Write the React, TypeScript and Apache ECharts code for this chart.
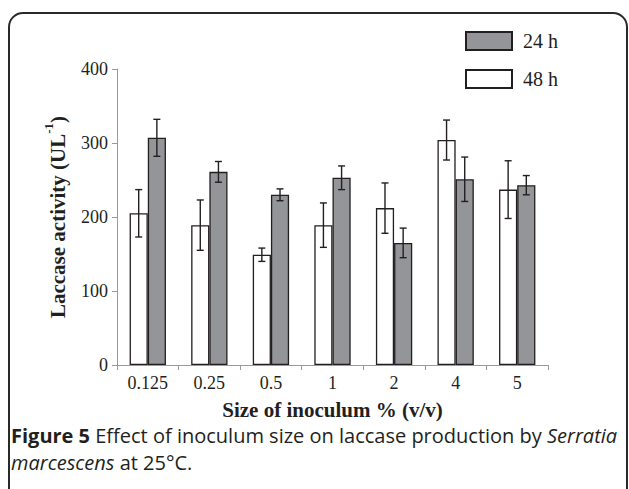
import React, { useEffect, useRef } from "react";
import * as echarts from "echarts";

const categories = ["0.125", "0.25", "0.5", "1", "2", "4", "5"];
const values48 = [205, 189, 149, 189, 212, 304, 237];
const err48 = [32, 34, 9, 30, 34, 27, 39];
const values24 = [307, 261, 230, 253, 165, 251, 243];
const err24 = [25, 14, 8, 16, 20, 30, 13];
const yTicks = [0, 100, 200, 300, 400];

const SERIF = "'Liberation Serif', 'Times New Roman', serif";
const SANS = "'Open Sans', 'Noto Sans', sans-serif";
const INK = "#231f20";

function errData(vals: number[], errs: number[]) {
  return vals.map((v, i) => [i, v - errs[i], v + errs[i]]);
}

function makeErrRender(sign: number) {
  return (params: any, api: any) => {
    const idx = api.value(0);
    const band = api.size([1, 0])[0];
    const cx = api.coord([idx, 0])[0] + sign * band * 0.1475;
    const top = api.coord([idx, api.value(2)])[1];
    const bot = api.coord([idx, api.value(1)])[1];
    const cap = 3.5;
    const style = { stroke: INK, lineWidth: 1.4 };
    return {
      type: "group",
      children: [
        { type: "line", shape: { x1: cx, y1: top, x2: cx, y2: bot }, style },
        { type: "line", shape: { x1: cx - cap, y1: top, x2: cx + cap, y2: top }, style },
        { type: "line", shape: { x1: cx - cap, y1: bot, x2: cx + cap, y2: bot }, style },
      ],
    };
  };
}

export default function App() {
  const ref = useRef<HTMLDivElement>(null);
  useEffect(() => {
    document.body.style.margin = "0";
    const chart = echarts.init(ref.current!, null, { renderer: "svg" });
    chart.setOption({
      animation: false,
      backgroundColor: "#ffffff",
      grid: { left: 117, right: 81, top: 69, bottom: 124, containLabel: false },
      legend: {
        orient: "vertical",
        left: 465,
        top: 31,
        padding: 0,
        itemWidth: 46,
        itemHeight: 18,
        itemGap: 18,
        icon: "rect",
        data: ["24 h", "48 h"],
        textStyle: { fontFamily: SERIF, fontSize: 20, color: INK, padding: [0, 0, 0, 6] },
      },
      xAxis: {
        type: "category",
        data: categories,
        name: "Size of inoculum % (v/v)",
        nameLocation: "middle",
        nameGap: 34,
        nameTextStyle: { fontFamily: SERIF, fontSize: 21, fontWeight: "bold", color: INK },
        axisLine: { lineStyle: { color: "#9a9a9a", width: 1 } },
        axisTick: { show: true, length: 5, lineStyle: { color: "#9a9a9a" } },
        axisLabel: { fontFamily: SERIF, fontSize: 18, color: INK, margin: 9 },
      },
      yAxis: {
        type: "value",
        min: yTicks[0],
        max: yTicks[yTicks.length - 1],
        interval: 100,
        name: "{a|Laccase activity (UL}{s|-1}{a|)}",
        nameLocation: "middle",
        nameGap: 49,
        nameTextStyle: {
          rich: {
            a: { fontFamily: SERIF, fontSize: 21, fontWeight: "bold", color: INK, lineHeight: 26, verticalAlign: "bottom" },
            s: { fontFamily: SERIF, fontSize: 13, fontWeight: "bold", color: INK, lineHeight: 26, verticalAlign: "top" },
          },
        },
        axisLine: { show: true, lineStyle: { color: "#9a9a9a", width: 1 } },
        axisTick: { show: true, length: 5, lineStyle: { color: "#9a9a9a" } },
        splitLine: { show: false },
        axisLabel: { fontFamily: SERIF, fontSize: 18, color: INK, margin: 9 },
      },
      series: [
        {
          name: "48 h",
          type: "bar",
          data: values48,
          barGap: "0%",
          barCategoryGap: "41%",
          itemStyle: { color: "#ffffff", borderColor: INK, borderWidth: 1.3 },
        },
        {
          name: "24 h",
          type: "bar",
          data: values24,
          barGap: "0%",
          barCategoryGap: "41%",
          itemStyle: { color: "#939598", borderColor: INK, borderWidth: 1.3 },
        },
        {
          name: "err48",
          type: "custom",
          z: 5,
          data: errData(values48, err48),
          encode: { x: 0, y: [1, 2] },
          renderItem: makeErrRender(-1),
        },
        {
          name: "err24",
          type: "custom",
          z: 5,
          data: errData(values24, err24),
          encode: { x: 0, y: [1, 2] },
          renderItem: makeErrRender(1),
        },
      ],
      graphic: [
        {
          type: "rect",
          shape: { x: 9, y: 13, width: 618, height: 540, r: 14 },
          style: { fill: "none", stroke: "#2a2a2a", lineWidth: 2 },
          z: 10,
        },
        {
          type: "text",
          left: 11,
          top: 422,
          style: {
            text:
              "{b|Figure 5} Effect of inoculum size on laccase production by {i|Serratia}\n{i|marcescens} at 25°C.",
            fontFamily: SANS,
            fontSize: 20,
            lineHeight: 27,
            fill: INK,
            rich: {
              b: { fontFamily: SANS, fontSize: 20, fontWeight: "bold", fill: INK, lineHeight: 27 },
              i: { fontFamily: SANS, fontSize: 20, fontStyle: "italic", fill: INK, lineHeight: 27 },
            },
          },
        },
      ],
    });
    return () => chart.dispose();
  }, []);
  return <div ref={ref} style={{ width: 629, height: 489 }} />;
}
